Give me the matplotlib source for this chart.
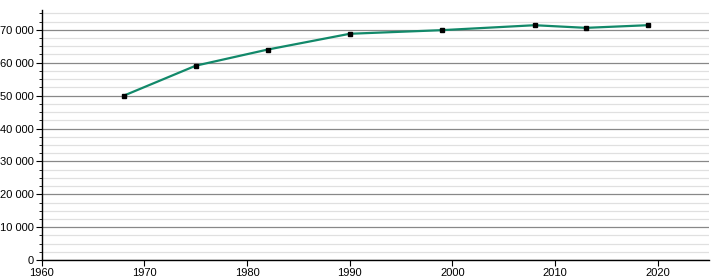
import matplotlib
matplotlib.use("Agg")
import matplotlib.pyplot as plt
from matplotlib.ticker import MultipleLocator, FuncFormatter

years = [1968, 1975, 1982, 1990, 1999, 2008, 2013, 2019]
population = [50000, 59100, 64000, 68800, 69900, 71400, 70600, 71400]

x_ticks = [1960, 1970, 1980, 1990, 2000, 2010, 2020]

plt.rcParams['font.family'] = ['Liberation Sans', 'DejaVu Sans']

fig = plt.figure(figsize=(7.2, 2.8), dpi=100)
ax = fig.add_axes([0.058, 0.071, 0.927, 0.893])

ax.plot(years, population, color='#12896a', linewidth=1.6, zorder=3)
ax.plot(years, population, linestyle='none', marker='s', markersize=3.5,
        color='black', zorder=4)

ax.set_xlim(1960, 2025)
ax.set_ylim(0, 76000)
ax.set_xticks(x_ticks)
ax.yaxis.set_major_locator(MultipleLocator(10000))
ax.yaxis.set_minor_locator(MultipleLocator(2500))
ax.yaxis.set_major_formatter(FuncFormatter(lambda v, p: f"{int(v):,}".replace(",", " ")))

ax.grid(which='major', axis='y', color='#888888', linewidth=0.9, zorder=1)
ax.grid(which='minor', axis='y', color='#e0e0e0', linewidth=0.9, zorder=0)

for s in ['top', 'right']:
    ax.spines[s].set_visible(False)
for s in ['left', 'bottom']:
    ax.spines[s].set_color('black')
    ax.spines[s].set_linewidth(1.0)

ax.tick_params(axis='both', which='major', labelsize=8, length=4, color='black', pad=2)
ax.tick_params(axis='y', which='minor', length=2, color='black')
ax.set_axisbelow(True)

fig.savefig("out.png", dpi=100)
